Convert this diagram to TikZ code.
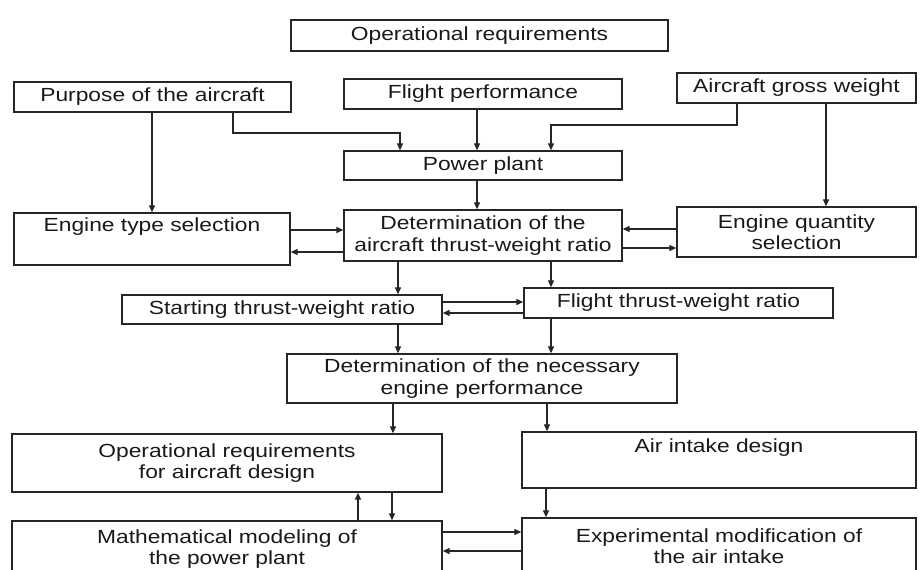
\documentclass[tikz,border=0pt]{standalone}
\usepackage{fontspec}
\setmainfont{Liberation Sans}[FakeStretch=1.2]
\usetikzlibrary{arrows.meta}
\begin{document}
\begin{tikzpicture}[x=1pt,y=-1pt,
  box/.style={draw=black!85,line width=1.3pt,inner sep=0pt,align=center,
    font=\fontsize{19}{21.5}\selectfont,text=black!90},
  arr/.style={draw=black!85,line width=1.1pt,-{Triangle[length=7pt,width=6pt]}}]
\useasboundingbox (0,0) rectangle (919,570);
\clip (0,0) rectangle (919,570);
% boxes
\node[box,minimum width=377pt,minimum height=31pt] (ops) at (479.5,35.5) {Operational requirements};
\node[box,minimum width=277pt,minimum height=30pt] (purpose) at (152.5,97) {Purpose of the aircraft};
\node[box,minimum width=278pt,minimum height=30pt] (flight) at (483,94) {Flight performance};
\node[box,minimum width=239pt,minimum height=30pt] (gross) at (796.5,88) {Aircraft gross weight};
\node[box,minimum width=278pt,minimum height=29pt] (power) at (483,165.5) {Power plant};
\node[box,minimum width=276pt,minimum height=52pt] (etype) at (152,239) {Engine type selection\\\strut};
\node[box,minimum width=278pt,minimum height=51pt] (det) at (483,235.5) {Determination of the\\aircraft thrust-weight ratio};
\node[box,minimum width=239pt,minimum height=50pt] (eqty) at (796.5,232) {Engine quantity\\selection};
\node[box,minimum width=320pt,minimum height=29pt] (start) at (282,309.5) {Starting thrust-weight ratio};
\node[box,minimum width=309pt,minimum height=30pt] (ftw) at (678.5,303) {Flight thrust-weight ratio};
\node[box,minimum width=390pt,minimum height=49pt] (need) at (482,378.5) {Determination of the necessary\\engine performance};
\node[box,minimum width=430pt,minimum height=58pt] (opreq) at (227,463) {Operational requirements\\for aircraft design};
\node[box,minimum width=394pt,minimum height=56pt] (air) at (719,460) {Air intake design\\\strut};
\node[box,minimum width=430pt,minimum height=56pt] (math) at (227,549) {Mathematical modeling of\\the power plant};
\node[box,minimum width=394pt,minimum height=56pt] (exp) at (719,546) {Experimental modification of\\the air intake};
% helper coordinates
\coordinate (xa) at (233,0);
\coordinate (xb) at (400,0);
\coordinate (xc) at (152,0);
\coordinate (xd) at (477,0);
\coordinate (xe) at (737,0);
\coordinate (xf) at (551,0);
\coordinate (xg) at (826,0);
\coordinate (xh) at (398,0);
\coordinate (xi) at (393,0);
\coordinate (xj) at (547,0);
\coordinate (xk) at (358,0);
\coordinate (xl) at (392,0);
\coordinate (xm) at (546,0);
\coordinate (ya) at (0,133);
\coordinate (yb) at (0,125);
\coordinate (yc) at (0,230);
\coordinate (yd) at (0,252);
\coordinate (ye) at (0,229);
\coordinate (yf) at (0,248);
\coordinate (yg) at (0,302);
\coordinate (yh) at (0,313);
\coordinate (yi) at (0,532);
\coordinate (yj) at (0,551);
% connectors
\draw[arr] (purpose.south -| xa) -- (ya -| xa) -- (ya -| xb) -- (power.north -| xb);
\draw[arr] (purpose.south -| xc) -- (etype.north -| xc);
\draw[arr] (flight.south -| xd) -- (power.north -| xd);
\draw[arr] (gross.south -| xe) -- (yb -| xe) -- (yb -| xf) -- (power.north -| xf);
\draw[arr] (gross.south -| xg) -- (eqty.north -| xg);
\draw[arr] (power.south -| xd) -- (det.north -| xd);
\draw[arr] (etype.east |- yc) -- (det.west |- yc);
\draw[arr] (det.west |- yd) -- (etype.east |- yd);
\draw[arr] (eqty.west |- ye) -- (det.east |- ye);
\draw[arr] (det.east |- yf) -- (eqty.west |- yf);
\draw[arr] (det.south -| xh) -- (start.north -| xh);
\draw[arr] (det.south -| xf) -- (ftw.north -| xf);
\draw[arr] (start.east |- yg) -- (ftw.west |- yg);
\draw[arr] (ftw.west |- yh) -- (start.east |- yh);
\draw[arr] (start.south -| xh) -- (need.north -| xh);
\draw[arr] (ftw.south -| xf) -- (need.north -| xf);
\draw[arr] (need.south -| xi) -- (opreq.north -| xi);
\draw[arr] (need.south -| xj) -- (air.north -| xj);
\draw[arr] (math.north -| xk) -- (opreq.south -| xk);
\draw[arr] (opreq.south -| xl) -- (math.north -| xl);
\draw[arr] (air.south -| xm) -- (exp.north -| xm);
\draw[arr] (math.east |- yi) -- (exp.west |- yi);
\draw[arr] (exp.west |- yj) -- (math.east |- yj);
\end{tikzpicture}
\end{document}
